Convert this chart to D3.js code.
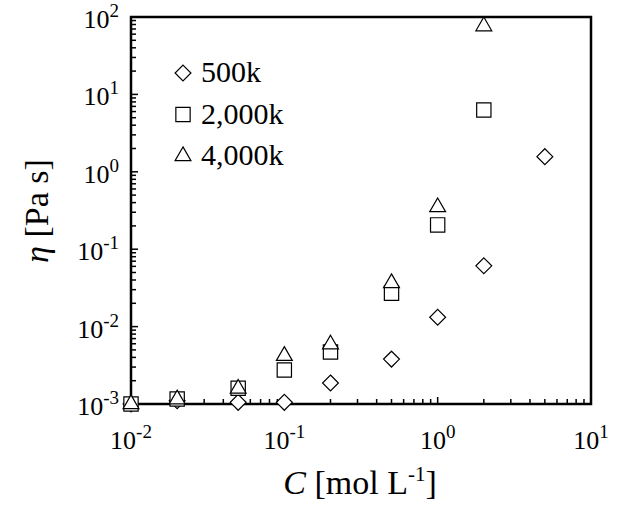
<!DOCTYPE html>
<html>
<head>
<meta charset="utf-8">
<script src="https://cdn.jsdelivr.net/npm/d3@7"></script>
<style>
  body { margin: 0; background: #fff; }
  text { font-family: "Liberation Serif", "Times New Roman", serif; fill: #000; }
</style>
</head>
<body>
<div id="chart"></div>
<script>
// concentrations [mol/L]
var conc = [0.01, 0.02, 0.05, 0.1, 0.2, 0.5, 1, 2, 5];
var eta500k  = [0.00100, 0.00110, 0.00105, 0.00105, 0.00187, 0.0038, 0.0132, 0.061, 1.57];
var conc2 = [0.01, 0.02, 0.05, 0.1, 0.2, 0.5, 1, 2];
var eta2000k = [0.00100, 0.00116, 0.00160, 0.00275, 0.0047, 0.027, 0.206, 6.3];
var eta4000k = [0.00100, 0.00115, 0.00158, 0.0042, 0.0059, 0.0365, 0.35, 76];
var seriesNames = ["500k", "2,000k", "4,000k"];
var xTicks = [-2, -1, 0, 1];
var yTicks = [-3, -2, -1, 0, 1, 2];

var W = 621, H = 516;
var margin = {left: 131, top: 17, right: 30, bottom: 112};

var svg = d3.select("#chart").append("svg").attr("width", W).attr("height", H);

var x = d3.scaleLog().domain([0.01, 10]).range([margin.left, W - margin.right]);
var y = d3.scaleLog().domain([0.001, 100]).range([H - margin.bottom, margin.top]);

// minor ticks
var xMinor = [], yMinor = [];
for (var e = -2; e < 1; e++) for (var k = 2; k < 10; k++) xMinor.push(k * Math.pow(10, e));
for (var e = -3; e < 2; e++) for (var k = 2; k < 10; k++) yMinor.push(k * Math.pow(10, e));

var g = svg.append("g");
g.selectAll(".xm").data(xMinor).enter().append("line")
  .attr("x1", d => x(d)).attr("x2", d => x(d))
  .attr("y1", y(0.001)).attr("y2", y(0.001) - 5)
  .attr("stroke", "#000").attr("stroke-width", 1.5);
g.selectAll(".xM").data(xTicks).enter().append("line")
  .attr("x1", d => x(Math.pow(10, d))).attr("x2", d => x(Math.pow(10, d)))
  .attr("y1", y(0.001)).attr("y2", y(0.001) - 7)
  .attr("stroke", "#000").attr("stroke-width", 1.5);
g.selectAll(".ym").data(yMinor).enter().append("line")
  .attr("x1", x(0.01)).attr("x2", x(0.01) + 5)
  .attr("y1", d => y(d)).attr("y2", d => y(d))
  .attr("stroke", "#000").attr("stroke-width", 1.5);
g.selectAll(".yM").data(yTicks).enter().append("line")
  .attr("x1", x(0.01)).attr("x2", x(0.01) + 7)
  .attr("y1", d => y(Math.pow(10, d))).attr("y2", d => y(Math.pow(10, d)))
  .attr("stroke", "#000").attr("stroke-width", 1.5);

// frame
svg.append("rect")
  .attr("x", x(0.01)).attr("y", y(100))
  .attr("width", x(10) - x(0.01)).attr("height", y(0.001) - y(100))
  .attr("fill", "none").attr("stroke", "#000").attr("stroke-width", 2.5);

// tick labels
function pow10(sel, e) {
  sel.append("tspan").text("10");
  sel.append("tspan").attr("dy", -11).style("font-size", "19px").text(e);
}
xTicks.forEach(function(e) {
  var t = svg.append("text").attr("x", x(Math.pow(10, e))).attr("y", H - margin.bottom + 45)
    .attr("text-anchor", "middle").style("font-size", "26px");
  pow10(t, e);
});
yTicks.forEach(function(e) {
  var t = svg.append("text").attr("x", x(0.01) - 12).attr("y", y(Math.pow(10, e)) + 11)
    .attr("text-anchor", "end").style("font-size", "26px");
  pow10(t, e);
});

// axis titles
var xt = svg.append("text").attr("x", 360).attr("y", 494).attr("text-anchor", "middle").style("font-size", "34px");
xt.append("tspan").style("font-style", "italic").text("C");
xt.append("tspan").text(" [mol L");
xt.append("tspan").attr("dy", -13).style("font-size", "21px").text("-1");
xt.append("tspan").attr("dy", 13).text("]");

var yt = svg.append("text").attr("transform", "translate(48,211) rotate(-90)")
  .attr("text-anchor", "middle").style("font-size", "34px");
yt.append("tspan").style("font-style", "italic").text("η");
yt.append("tspan").text(" [Pa s]");

// markers
var sym = [d3.symbolDiamond2, d3.symbolSquare2, d3.symbolTriangle2];
var symSize = [160, 260, 180];
var series = [
  conc.map((c, i) => ({c: c, v: eta500k[i]})),
  conc2.map((c, i) => ({c: c, v: eta2000k[i]})),
  conc2.map((c, i) => ({c: c, v: eta4000k[i]}))
];
series.forEach(function(s, si) {
  svg.selectAll(".s" + si).data(s).enter().append("path")
    .attr("d", d3.symbol().type(sym[si]).size(symSize[si]))
    .attr("transform", d => "translate(" + x(d.c) + "," + y(d.v) + ")")
    .attr("fill", "#fff").attr("stroke", "#000").attr("stroke-width", 1.2);
});

// legend
seriesNames.forEach(function(n, i) {
  var ly = 73 + i * 41.5;
  svg.append("path").attr("d", d3.symbol().type(sym[i]).size(symSize[i]))
    .attr("transform", "translate(183," + ly + ")")
    .attr("fill", "#fff").attr("stroke", "#000").attr("stroke-width", 1.2);
  svg.append("text").attr("x", 201).attr("y", ly + 9).style("font-size", "30px").text(n);
});
</script>
</body>
</html>
